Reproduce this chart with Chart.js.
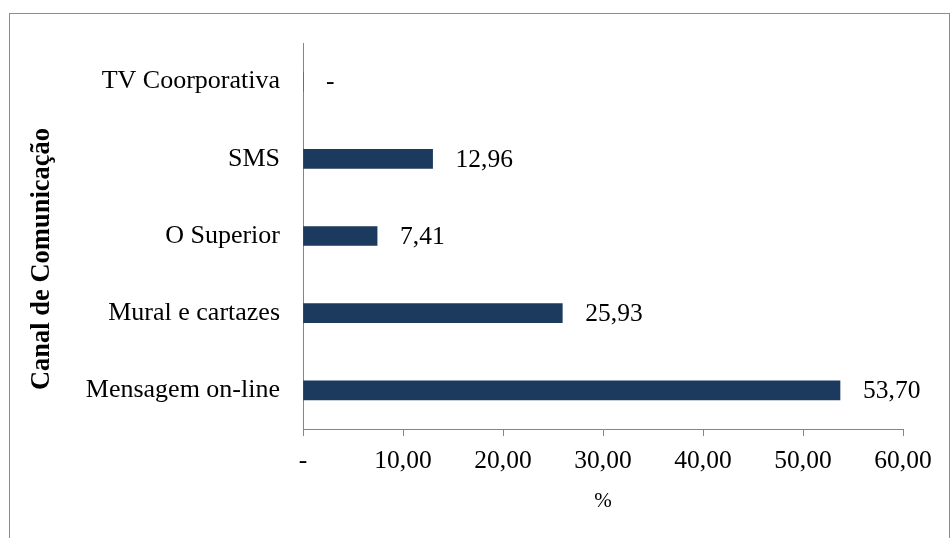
<!DOCTYPE html>
<html>
<head>
<meta charset="utf-8">
<script src="https://cdn.jsdelivr.net/npm/chart.js@4/dist/chart.umd.min.js"></script>
<style>
  html, body { margin: 0; padding: 0; background: #fff; }
  #wrap { width: 952px; height: 538px; position: relative; }
</style>
</head>
<body>
<div id="wrap"><canvas id="chart" width="952" height="538"></canvas></div>
<script>
"use strict";

// ── Data ──────────────────────────────────────────────────────────────────
const categories = ["TV Coorporativa", "SMS", "O Superior", "Mural e cartazes", "Mensagem on-line"];
const values     = [0, 12.96, 7.41, 25.93, 53.70];
const xTicks     = [0, 10, 20, 30, 40, 50, 60];
const yTitle     = "Canal de Comunicação";

const FONT  = "'Liberation Serif', 'Times New Roman', serif";
const GREY  = "#868686";
const NAVY  = "#1b3a5e";

function fmt(v) {
  return v === 0 ? "-" : v.toFixed(2).replace(".", ",");
}

// ── Plugins ───────────────────────────────────────────────────────────────
// outer chart frame + rotated y title (Excel centres it lower than the plot)
const frame = {
  id: "frame",
  beforeDraw(chart) {
    const c = chart.ctx;
    c.save();
    c.strokeStyle = "#8c8c8c";
    c.lineWidth = 1;
    c.strokeRect(9.5, 13.5, 940, 540);
    c.translate(42, 259);
    c.rotate(-Math.PI / 2);
    c.font = "bold 26.5px " + FONT;
    c.fillStyle = "#000";
    c.textAlign = "center";
    c.textBaseline = "middle";
    c.fillText(yTitle, 0, 0);
    c.restore();
  }
};

const valueLabels = {
  id: "valueLabels",
  afterDatasetsDraw(chart) {
    const c = chart.ctx;
    const meta = chart.getDatasetMeta(0);
    c.save();
    c.font = "25.5px " + FONT;
    c.fillStyle = "#000";
    c.textAlign = "left";
    c.textBaseline = "middle";
    meta.data.forEach((bar, i) => {
      c.fillText(fmt(values[i]), bar.x + 23, bar.y + 1);
    });
    c.restore();
  }
};

// ── Chart ─────────────────────────────────────────────────────────────────
new Chart(document.getElementById("chart"), {
  type: "bar",
  data: {
    labels: categories,
    datasets: [{
      data: values,
      backgroundColor: NAVY,
      barThickness: 19,
    }],
  },
  options: {
    indexAxis: "y",
    responsive: false,
    animation: false,
    layout: { padding: { top: 43, right: 49, bottom: 24, left: 0 } },
    plugins: {
      legend: { display: false },
      tooltip: { enabled: false },
    },
    scales: {
      x: {
        min: 0,
        max: 60,
        afterBuildTicks: s => { s.ticks = xTicks.map(v => ({ value: v })); },
        grid: {
          drawOnChartArea: false,
          drawTicks: true,
          tickLength: 7,
          color: GREY,
        },
        border: { color: GREY, width: 1 },
        ticks: {
          color: "#000",
          padding: 10,
          maxRotation: 0,
          font: { family: FONT, size: 25.5 },
          callback: v => fmt(v),
        },
        title: {
          display: true,
          text: "%",
          color: "#000",
          padding: 0,
          font: { family: FONT, size: 21 },
        },
        afterFit: s => { s.height = 85; },
      },
      y: {
        grid: { display: false, drawTicks: false },
        border: { color: GREY, width: 1 },
        ticks: {
          color: "#000",
          padding: 23,
          font: { family: FONT, size: 26 },
        },
        afterFit: s => { s.width = 303; },
      },
    },
  },
  plugins: [frame, valueLabels],
});
</script>
</body>
</html>
